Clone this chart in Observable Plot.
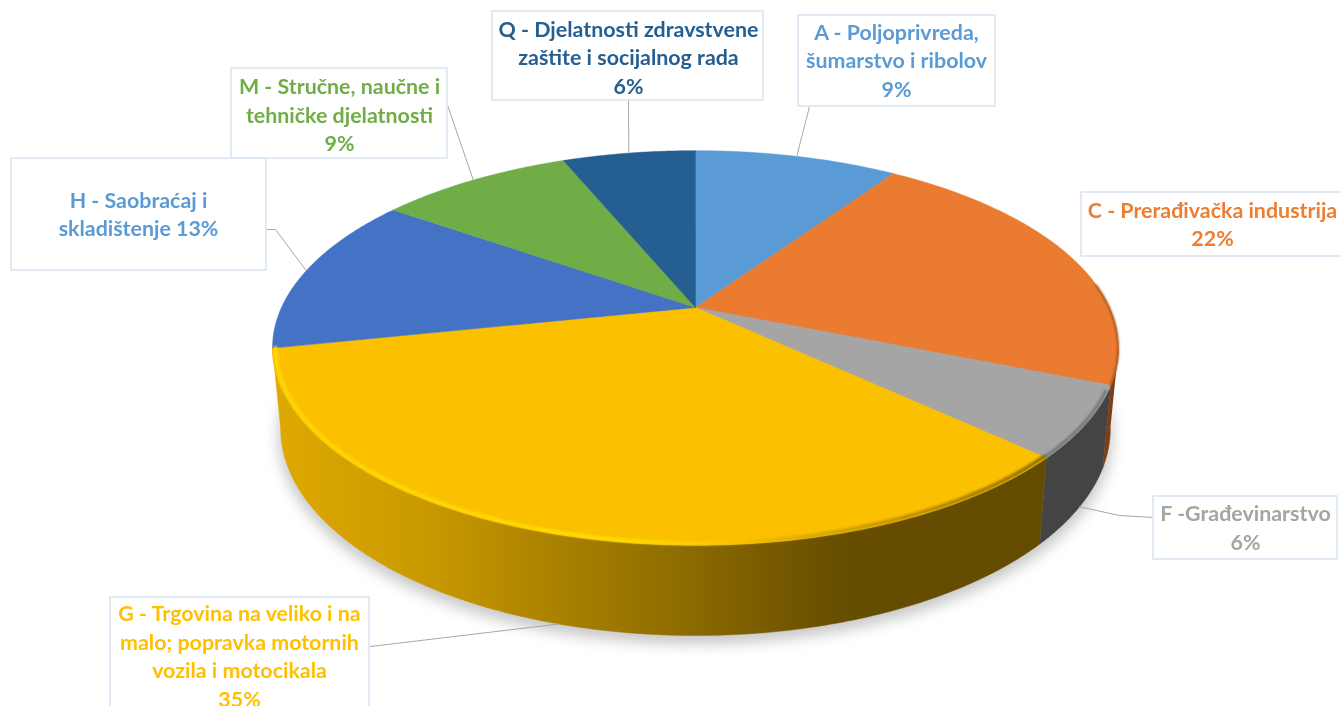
<!DOCTYPE html>
<html>
<head>
<meta charset="utf-8">
<script src="https://cdn.jsdelivr.net/npm/d3@7"></script>
<script src="https://cdn.jsdelivr.net/npm/@observablehq/plot@0.6"></script>
<style>
html,body{margin:0;padding:0;background:#fff;overflow:hidden}
svg{display:block;filter:blur(0.55px)}
</style>
</head>
<body>
<div id="chart"></div>
<script>
// Data, clockwise from the top of the pie
const categories = [
  "A - Poljoprivreda,\nšumarstvo i ribolov",
  "C - Prerađivačka industrija",
  "F -Građevinarstvo",
  "G - Trgovina na veliko i na\nmalo; popravka motornih\nvozila i motocikala",
  "H - Saobraćaj i\nskladištenje",
  "M - Stručne, naučne i\ntehničke djelatnosti",
  "Q - Djelatnosti zdravstvene\nzaštite i socijalnog rada"
];
const values = [9.45, 21.75, 5.8, 34.7, 13.1, 9.0, 6.2];
const percentSeparators = ["\n", "\n", "\n", "\n", " ", "\n", "\n"];

// Styles
const sliceColors = ["#5b9bd5", "#ea7b31", "#a5a5a5", "#fbc000", "#4472c4", "#70ad47", "#255e91"];
const labelColors = ["#5b9bd5", "#ed7d31", "#a5a5a5", "#ffc000", "#5b9bd5", "#70ad47", "#255e91"];
const sideColors  = [null, "#7d3f12", "#444444", "url(#goldSide)", null, null, null];

// Layout: label boxes [x1, y1, x2, y2], text block centre, leader elbow, rim the leader ends on
const labelBoxes = [
  [798, 15, 995, 106], [1081, 192, 1350, 256], [1153, 496, 1337, 559], [110, 597, 369, 720],
  [11, 158, 266, 270], [231, 68, 447, 158], [492, 11, 763, 100]
];
const labelCentres = [[896, 58.5], [1212, 222.5], [1245, 526], [239, 654.5], [138, 212.5], [339, 113], [628, 55.5]];
const leaderStarts = [[[809, 106]], null, [[1153, 517], [1119, 515]], [[370, 646]], [[267, 229], [275, 229]], [[447.5, 106]], [[628, 100]]];
const leaderRims = ["top", null, "bottom", "bottom", "top", "top", "top"];

// Perspective discs of the 3-D pie
const k = 0.205;
const discs = {
  top: {cx: 695, cy: 307, R: 414, B: 189},
  bottom: {cx: 695, cy: 385.6, R: 406, B: 198.3}
};
const project = (disc, t, r = 1) => {
  const u = Math.sin(t) * r, v = -Math.cos(t) * r, w = 1 - k * v;
  return {x: disc.cx + disc.R * u / w, y: disc.cy + disc.B * v / w};
};
const tau = Math.PI * 2;
const total = d3.sum(values);
const ends = Array.from(d3.cumsum(values), (c) => c / total * tau);
const starts = ends.map((_, i) => (i ? ends[i - 1] : 0));
const arc = (disc, a, b, r = 1) => {
  const n = Math.max(2, Math.ceil(Math.abs(b - a) / 0.01));
  return d3.range(n + 1).map((i) => project(disc, a + (b - a) * i / n, r));
};
const frontA = Math.acos(-k), frontB = tau - frontA;

const slicePath = (i) => [{x: discs.top.cx, y: discs.top.cy}, ...arc(discs.top, starts[i], ends[i]), {x: discs.top.cx, y: discs.top.cy}];
const sidePath = (i) => {
  const a = Math.max(starts[i], frontA), b = Math.min(ends[i], frontB);
  return [...arc(discs.top, a, b), ...arc(discs.bottom, b, a)];
};
const lineMark = (pts, o) => Plot.line(pts, {x: "x", y: "y", ...o});

const sideMarks = sideColors.flatMap((c, i) => c ? [lineMark(sidePath(i), {fill: c, stroke: c, strokeWidth: 0.5})] : []);
const topMarks = sliceColors.map((c, i) => lineMark(slicePath(i), {fill: c, stroke: c, strokeWidth: 0.5}));

const leaders = leaderStarts.flatMap((s, i) => {
  if (!s) return [];
  const mid = (starts[i] + ends[i]) / 2;
  const end = project(discs[leaderRims[i]], mid);
  return [...s.map(([x, y]) => ({x, y, i})), {...end, i}];
});

const boxes = labelBoxes.map(([x1, y1, x2, y2]) => ({x1, y1, x2, y2}));
const labels = categories.map((c, i) => ({
  text: c + percentSeparators[i] + Math.round(values[i]) + "%",
  x: labelCentres[i][0], y: labelCentres[i][1], color: labelColors[i]
}));

const defs = () => {
  const d = d3.create("svg:defs");
  const grad = (id, x1, x2, stops) => {
    const g = d.append("linearGradient").attr("id", id).attr("gradientUnits", "userSpaceOnUse")
      .attr("x1", x1).attr("x2", x2).attr("y1", 0).attr("y2", 0);
    stops.forEach(([o, c]) => g.append("stop").attr("offset", o).attr("stop-color", c));
  };
  grad("goldSide", 272, 1042, [[0, "#dfa900"], [0.2, "#c99900"], [0.38, "#a88000"], [0.55, "#8a6900"], [0.74, "#664d00"], [1, "#634b00"]]);
  grad("goldRim", 272, 1042, [[0, "#ffd800"], [0.45, "#ffde00"], [0.58, "#fdc800"], [0.7, "#d9a500"], [1, "#8d6c00"]]);
  return d.node();
};

const shadowPts = arc(discs.bottom, 0, tau, 1.005).map((p) => ({x: p.x, y: p.y + 7}));

const plot = Plot.plot({
  width: 1341, height: 706, margin: 0,
  x: {domain: [0, 1341], range: [0, 1341], axis: null},
  y: {domain: [0, 706], range: [0, 706], axis: null},
  marks: [
    defs,
    lineMark(shadowPts, {fill: "#9a9a9a", fillOpacity: 0.55, stroke: "none"}),
    ...sideMarks,
    ...topMarks,
    lineMark(arc(discs.top, 1.45, ends[1], 0.999), {stroke: "#8f4c17", strokeWidth: 1.5}),
    lineMark(arc(discs.top, starts[2] + 0.03, ends[2], 0.995), {stroke: "#757575", strokeWidth: 3}),
    lineMark(arc(discs.top, starts[3], ends[3], 0.993), {stroke: "url(#goldRim)", strokeWidth: 3.6}),
    Plot.line(leaders, {x: "x", y: "y", z: "i", stroke: "#a6a6a6", strokeWidth: 1}),
    Plot.rect(boxes, {x1: "x1", y1: "y1", x2: "x2", y2: "y2", fill: "white", stroke: "#d9e6f4", strokeWidth: 1.6}),
    Plot.text(labels, {
      x: "x", y: "y", text: "text", fill: "color",
      fontFamily: "Lato", fontWeight: 700, fontSize: 21.4, lineHeight: 1.33,
      textAnchor: "middle", lineAnchor: "middle"
    })
  ]
});
document.getElementById("chart").appendChild(plot);
const lineGroups = plot.querySelectorAll('g[aria-label="line"]');
const firstRim = 1 + sideMarks.length + topMarks.length;
if (lineGroups[0]) lineGroups[0].style.filter = "blur(7px)";
[firstRim, firstRim + 1, firstRim + 2].forEach((n) => {
  if (lineGroups[n]) lineGroups[n].style.filter = "blur(1px)";
});
</script>
</body>
</html>
